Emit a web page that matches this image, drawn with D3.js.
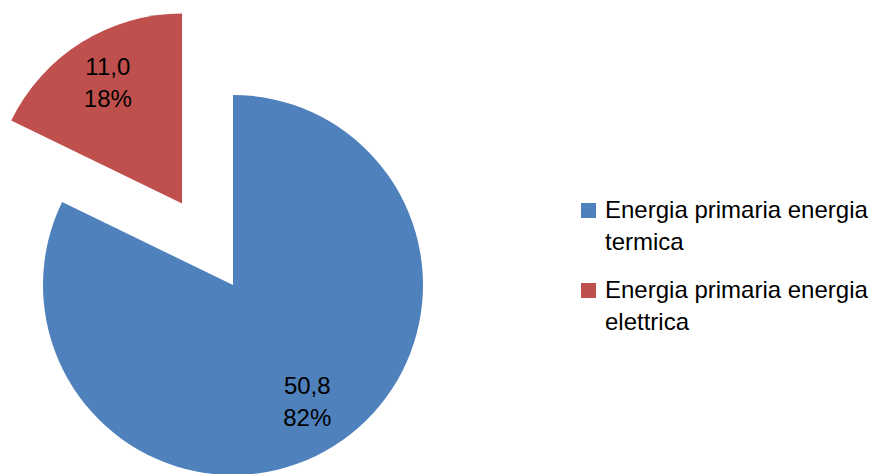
<!DOCTYPE html>
<html>
<head>
<meta charset="utf-8">
<script src="https://cdn.jsdelivr.net/npm/d3@7"></script>
<style>
  html, body { margin: 0; padding: 0; background: #fff; }
  svg { display: block; }
  text { font-family: "Liberation Sans", Arial, sans-serif; fill: #000; }
</style>
</head>
<body>
<svg id="chart" width="872" height="474"></svg>
<script>
// ---- data ----
const categories = ["Energia primaria energia termica", "Energia primaria energia elettrica"];
const legendLines = [["Energia primaria energia", "termica"], ["Energia primaria energia", "elettrica"]];
const values = [50.8, 11.0];
const valueLabels = ["50,8", "11,0"];
const percentLabels = ["82%", "18%"];
const colors = ["#4F81BD", "#C0504D"];
const exploded = [0, 1];

// ---- layout ----
const W = 872, H = 474;
const cx = 233, cy = 285, R = 190;
const explodeDist = 96;
const labelR = 140;
const fontSize = 24;

const svg = d3.select("#chart");

const pie = d3.pie().sort(null).value(d => d)(values);
const arc = d3.arc().innerRadius(0).outerRadius(R);
const labelArc = d3.arc().innerRadius(labelR).outerRadius(labelR);

const g = svg.append("g").attr("transform", `translate(${cx},${cy})`);

const slices = g.selectAll("g.slice").data(pie).enter().append("g")
  .attr("class", "slice")
  .attr("transform", (d, i) => {
    const mid = (d.startAngle + d.endAngle) / 2;
    const off = exploded[i] ? explodeDist : 0;
    return `translate(${Math.sin(mid) * off},${-Math.cos(mid) * off})`;
  });

slices.append("path")
  .attr("d", arc)
  .attr("fill", (d, i) => colors[i]);

slices.each(function(d, i) {
  const [lx, ly] = labelArc.centroid(d);
  const t = d3.select(this).append("text")
    .attr("text-anchor", "middle")
    .style("font-size", fontSize + "px");
  t.append("tspan").attr("x", lx).attr("y", ly - 10).text(valueLabels[i]);
  t.append("tspan").attr("x", lx).attr("y", ly + 22.5).text(percentLabels[i]);
});

// ---- legend ----
const legend = svg.append("g").attr("transform", "translate(581,0)");
const itemY = [218, 298];
const lineGap = 32;
legendLines.forEach((lines, i) => {
  const item = legend.append("g");
  item.append("rect")
    .attr("x", 0).attr("y", itemY[i] - 15)
    .attr("width", 15).attr("height", 15)
    .attr("fill", colors[i]);
  const t = item.append("text").style("font-size", fontSize + "px");
  lines.forEach((ln, j) => {
    t.append("tspan").attr("x", 24).attr("y", itemY[i] + j * lineGap).text(ln);
  });
});
</script>
</body>
</html>
